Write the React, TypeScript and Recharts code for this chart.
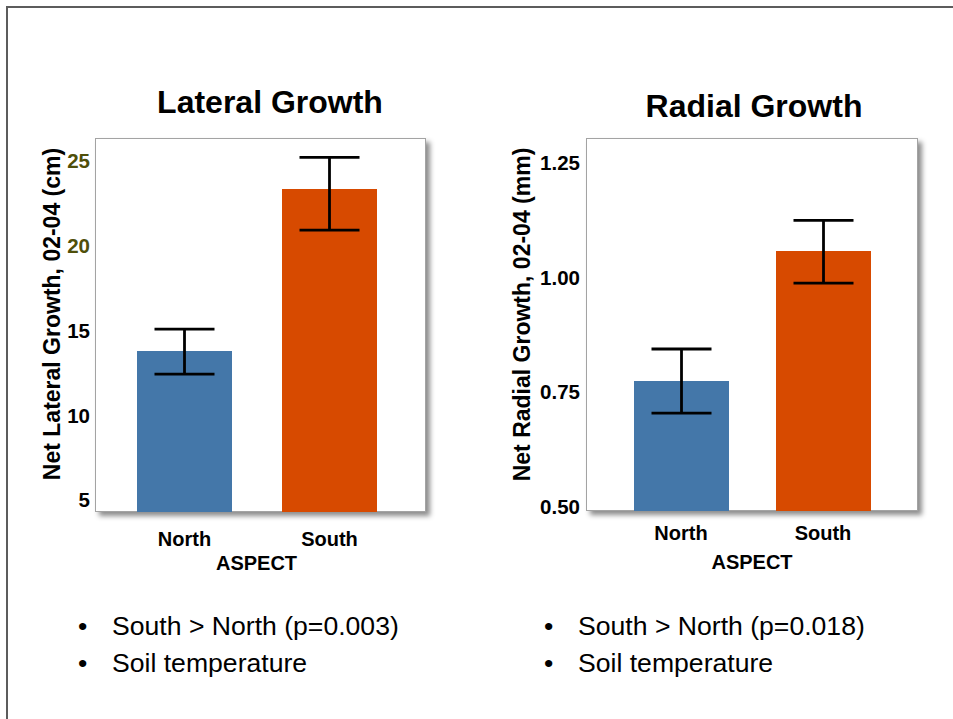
import React from 'react'
import { BarChart, Bar, XAxis, YAxis, ErrorBar, Cell, Label } from 'recharts'

const aspects = ['North', 'South']
const barColors = ['#4477a9', '#d74a00']

// net lateral growth 02-04 (cm), mean with [below, above] error
const lateralMeans = [13.79, 23.34]
const lateralErrors = [[1.36, 1.29], [2.42, 1.87]]
const lateralTicks = [5, 10, 15, 20, 25]

// net radial growth 02-04 (mm)
const radialMeans = [0.774, 1.058]
const radialErrors = [[0.07, 0.07], [0.07, 0.067]]
const radialTicks = [0.5, 0.75, 1.0, 1.25]

const lateralNotes = ['South > North (p=0.003)', 'Soil temperature']
const radialNotes = ['South > North (p=0.018)', 'Soil temperature']

const FONT = '"Liberation Sans", Arial, Helvetica, sans-serif'

const lateralData = aspects.map((aspect, i) => ({ aspect, value: lateralMeans[i], err: lateralErrors[i] }))
const radialData = aspects.map((aspect, i) => ({ aspect, value: radialMeans[i], err: radialErrors[i] }))

const YTitle = ({ viewBox, value, offset, shift }: any) => {
  const cx = viewBox.x + offset
  const cy = viewBox.y + viewBox.height / 2 - shift
  return (
    <text
      x={cx}
      y={cy}
      transform={`rotate(-90 ${cx} ${cy})`}
      textAnchor="middle"
      dominantBaseline="central"
      fontFamily={FONT}
      fontWeight="bold"
      fontSize={23}
      fill="#000"
    >
      {value}
    </text>
  )
}

const makeTick = (fmt: (v: number) => string, colorOf: (v: number) => string) => (props: any) => {
  const { x, y, payload } = props
  return (
    <text x={x} y={y} dy="0.355em" textAnchor="end" fontFamily={FONT} fontWeight="bold" fontSize={20.5} fill={colorOf(payload.value)}>
      {fmt(payload.value)}
    </text>
  )
}

const Panel = ({ left, top, width, height }: any) => (
  <div
    style={{
      position: 'absolute',
      left,
      top,
      width,
      height,
      boxSizing: 'border-box',
      border: '1px solid #a3a3a3',
      background: '#fff',
      boxShadow: '4px 4px 5px rgba(0,0,0,0.45)',
    }}
  />
)

const xTick = { fontFamily: FONT, fontWeight: 'bold', fontSize: 20, fill: '#000' }

export default function App() {
  return (
    <div style={{ position: 'absolute', left: 0, top: 0, width: 953, height: 719, background: '#fff', overflow: 'hidden' }}>
      {/* slide frame */}
      <div style={{ position: 'absolute', left: 6, top: 6, width: 960, height: 720, borderTop: '2px solid #5c5c5c', borderLeft: '2px solid #5c5c5c' }} />

      <Panel left={95} top={138} width={331} height={374} />
      <Panel left={586} top={138} width={332} height={373} />

      <div style={{ position: 'absolute', left: 0, top: 130 }}>
        <BarChart width={476} height={460} data={lateralData} margin={{ top: 8, right: 50, bottom: 18, left: 35 }}>
          <XAxis
            dataKey="aspect"
            tickLine={false}
            axisLine={false}
            tickSize={6}
            tickMargin={14}
            height={60}
            padding={{ left: 17, right: 24 }}
            tick={xTick}
          >
            <Label value="ASPECT" position="insideBottom" offset={2} dx={-4} style={xTick} />
          </XAxis>
          <YAxis
            type="number"
            domain={[4.3, 26.35]}
            allowDataOverflow
            ticks={lateralTicks}
            width={60}
            tickLine={false}
            axisLine={false}
            tickSize={3}
            tickMargin={2}
            tick={makeTick((v) => String(v), (v) => (v >= 20 ? '#4f4f0a' : '#000'))}
          >
            <Label content={(p: any) => <YTitle {...p} value="Net Lateral Growth, 02-04 (cm)" offset={17} shift={11} />} />
          </YAxis>
          <Bar dataKey="value" barSize={95} isAnimationActive={false}>
            {lateralData.map((d, i) => (
              <Cell key={d.aspect} fill={barColors[i]} />
            ))}
            <ErrorBar dataKey="err" direction="y" width={30} strokeWidth={2.8} stroke="#000" isAnimationActive={false} />
          </Bar>
        </BarChart>
      </div>

      <div style={{ position: 'absolute', left: 476, top: 130 }}>
        <BarChart width={477} height={460} data={radialData} margin={{ top: 8, right: 35, bottom: 19, left: 40 }}>
          <XAxis
            dataKey="aspect"
            tickLine={false}
            axisLine={false}
            tickSize={6}
            tickMargin={9}
            height={60}
            padding={{ left: 24, right: 24 }}
            tick={xTick}
          >
            <Label value="ASPECT" position="insideBottom" offset={2} style={xTick} />
          </XAxis>
          <YAxis
            type="number"
            domain={[0.49, 1.305]}
            allowDataOverflow
            ticks={radialTicks}
            width={70}
            tickLine={false}
            axisLine={false}
            tickSize={4}
            tickMargin={2}
            tick={makeTick((v) => v.toFixed(2), () => '#000')}
          >
            <Label content={(p: any) => <YTitle {...p} value="Net Radial Growth, 02-04 (mm)" offset={6} shift={10} />} />
          </YAxis>
          <Bar dataKey="value" barSize={95} isAnimationActive={false}>
            {radialData.map((d, i) => (
              <Cell key={d.aspect} fill={barColors[i]} />
            ))}
            <ErrorBar dataKey="err" direction="y" width={30} strokeWidth={2.8} stroke="#000" isAnimationActive={false} />
          </Bar>
        </BarChart>
      </div>

      <svg width={953} height={719} style={{ position: 'absolute', left: 0, top: 0, pointerEvents: 'none' }} fontFamily={FONT}>
        <text x={270} y={113} textAnchor="middle" fontWeight="bold" fontSize={32} fill="#000">Lateral Growth</text>
        <text x={754} y={117} textAnchor="middle" fontWeight="bold" fontSize={32} fill="#000">Radial Growth</text>
        {lateralNotes.map((t, i) => (
          <g key={t} fontSize={26.6} fill="#000">
            <text x={78} y={635 + i * 37}>•</text>
            <text x={112} y={635 + i * 37}>{t}</text>
          </g>
        ))}
        {radialNotes.map((t, i) => (
          <g key={t} fontSize={26.6} fill="#000">
            <text x={544} y={635 + i * 37}>•</text>
            <text x={578} y={635 + i * 37}>{t}</text>
          </g>
        ))}
      </svg>
    </div>
  )
}
